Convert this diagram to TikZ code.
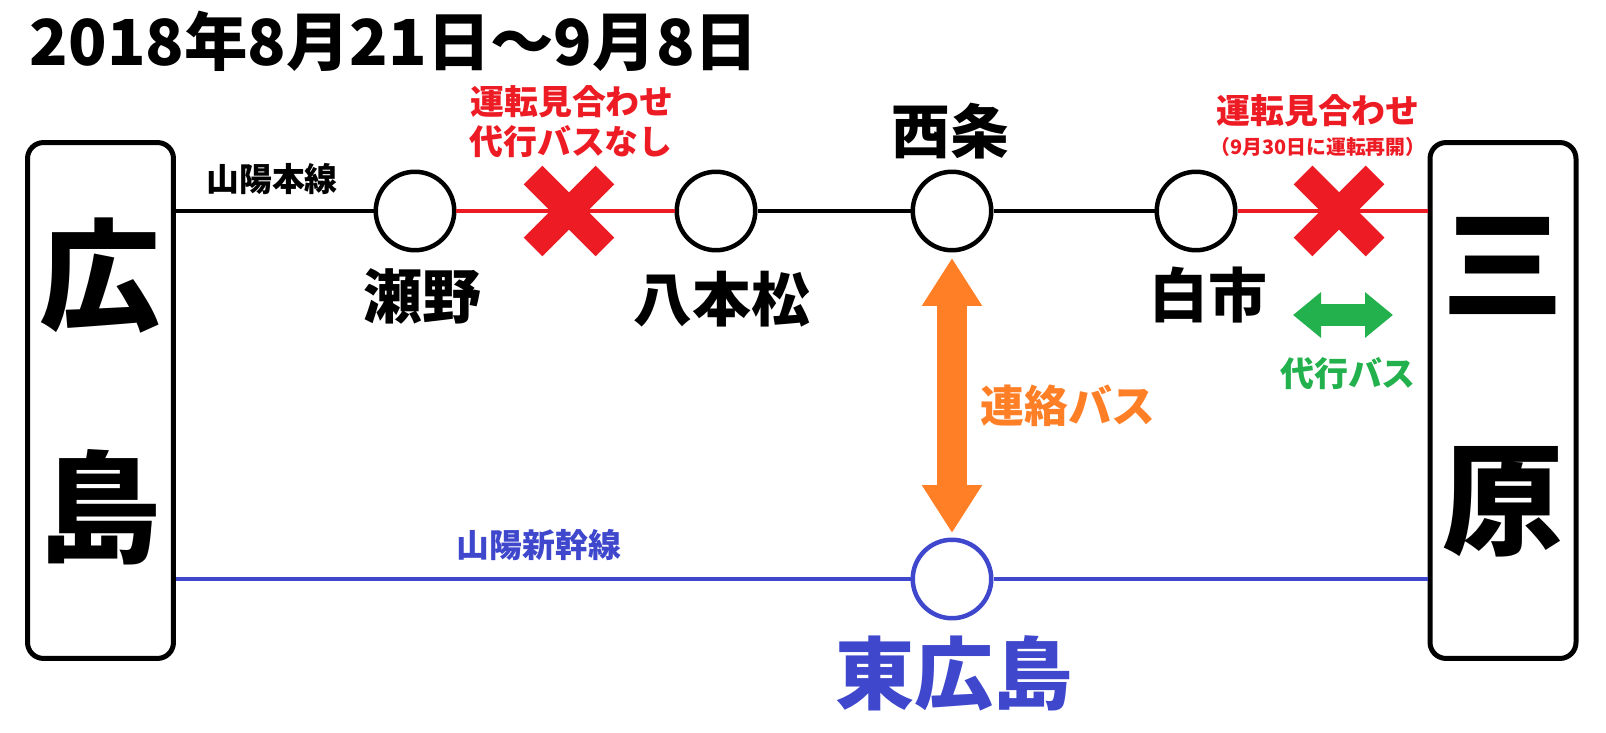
\documentclass[tikz,border=0pt]{standalone}
\usepackage{fontspec}
\setmainfont{Noto Sans CJK JP}
\usepackage{tikz}
\usetikzlibrary{arrows.meta,shapes.misc}
\usepackage{xcolor}

\definecolor{jrred}{HTML}{ED1C24}
\definecolor{busorange}{HTML}{FF7F27}
\definecolor{busgreen}{HTML}{22B14C}
\definecolor{shinblue}{HTML}{3F48CC}

\newcommand{\fs}[1]{\fontsize{#1}{1.2\dimexpr#1\relax}\selectfont\bfseries}

\tikzset{
  station/.style={draw, circle, line width=0.09cm, minimum size=1.57cm, inner sep=0pt, fill=white},
  terminal/.style={draw, rounded corners=0.32cm, line width=0.1cm, minimum width=2.92cm, minimum height=10.32cm, inner sep=0pt},
  track/.style={line width=0.09cm},
  stopmark/.style={draw=jrred, cross out, line width=0.53cm, minimum size=1.44cm, inner sep=0pt, outer sep=0pt},
  lbl/.style={inner sep=0pt, text depth=0pt},
}

\begin{document}
\begin{tikzpicture}[x=0.02cm, y=-0.02cm]
  \useasboundingbox (0,0) rectangle (1606,733);

  % Terminals
  \node[terminal] (hiro) at (100.5, 400.5) {};
  \node[terminal] (mihara) at (1503, 400.5) {};
  \node[lbl] (hiro1) at (100, 270) {\fs{69pt}広};
  \node[lbl] (hiro2) at (100, 501) {\fs{69pt}島};
  \node[lbl] (mih1) at (1503, 263) {\fs{69pt}三};
  \node[lbl] (mih2) at (1503, 496) {\fs{69pt}原};

  % Stations
  \node[station] (seno) at (415, 211) {};
  \node[station] (hachi) at (716, 211) {};
  \node[station] (saijo) at (952, 211) {};
  \node[station] (shira) at (1196, 211) {};
  \node[station, draw=shinblue] (higashi) at (952, 579) {};

  % Tracks
  \draw[track] (hiro.east |- seno) -- (seno);
  \draw[track, jrred] (seno) -- (hachi);
  \draw[track] (hachi) -- (saijo);
  \draw[track] (saijo) -- (shira);
  \draw[track, jrred] (shira) -- (mihara.west |- shira);
  \draw[track, shinblue] (hiro.east |- higashi) -- (higashi);
  \draw[track, shinblue] (higashi) -- (mihara.west |- higashi);

  % Suspended sections
  \node[stopmark] (x1) at (569, 211) {};
  \node[stopmark] (x2) at (1339, 211) {};

  % Buses
  \draw[line width=0.6cm, busorange, {Triangle[length=0.96cm, width=1.14cm]}-{Triangle[length=0.96cm, width=1.14cm]}, shorten <=0.11cm, shorten >=0.09cm] (saijo) -- (higashi);
  \coordinate (g1) at (1293, 315);
  \coordinate (g2) at (1393, 315);
  \draw[line width=0.44cm, busgreen, {Triangle[length=0.56cm, width=0.88cm]}-{Triangle[length=0.56cm, width=0.88cm]}] (g1) -- (g2);

  % Labels
  \node[lbl] (title) at (394, 38) {\fs{36.1pt}2018年8月21日〜9月8日};
  \node[lbl] (sanyo) at (272, 177) {\fs{18.7pt}山陽本線};
  \node[lbl] (shin) at (539, 543) {\fs{18.7pt}\color{shinblue}山陽新幹線};
  \node[lbl] (note1a) at (572, 100) {\fs{19.3pt}\color{jrred}運転見合わせ};
  \node[lbl] (note1b) at (571, 140) {\fs{19.3pt}\color{jrred}代行バスなし};
  \node[lbl] (note2a) at (1318, 109) {\fs{19.3pt}\color{jrred}運転見合わせ};
  \node[lbl] (note2b) at (1318, 146) {\fs{11.3pt}\color{jrred}（9月30日に運転再開）};
  \node[lbl] (senoL) at (422, 294) {\fs{33.5pt}瀬野};
  \node[lbl] (hachiL) at (722, 296) {\fs{33.5pt}八本松};
  \node[lbl] (saijoL) at (950, 128) {\fs{33.5pt}西条};
  \node[lbl] (shiraL) at (1208, 292) {\fs{33.5pt}白市};
  \node[lbl] (higashiL) at (954, 670) {\fs{45pt}\color{shinblue}東広島};
  \node[lbl] (renraku) at (1068, 404) {\fs{25pt}\color{busorange}連絡バス};
  \node[lbl] (daiko) at (1348, 372) {\fs{19.3pt}\color{busgreen}代行バス};
\end{tikzpicture}
\end{document}
